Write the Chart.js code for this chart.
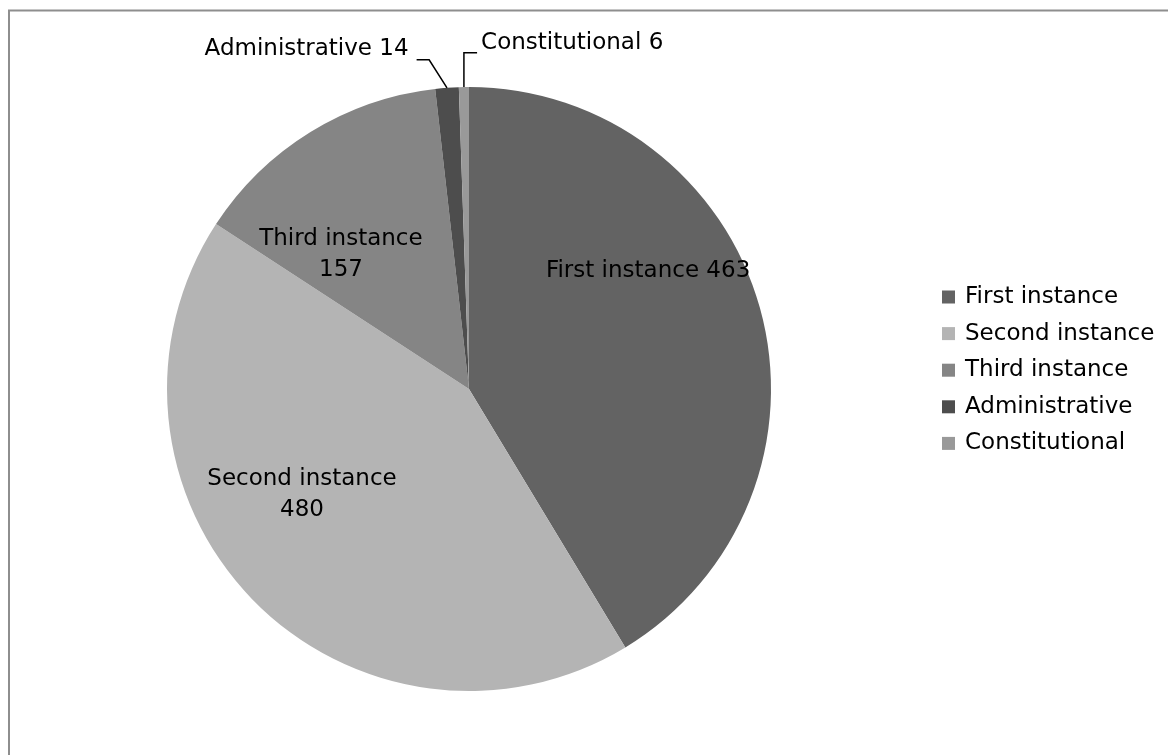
<!DOCTYPE html>
<html>
<head>
<meta charset="utf-8">
<script src="https://cdn.jsdelivr.net/npm/chart.js@4.4.1/dist/chart.umd.min.js"></script>
<style>
  html, body { margin: 0; padding: 0; background: #fff; }
  #wrap { width: 1168px; height: 755px; position: relative; }
</style>
</head>
<body>
<div id="wrap"><canvas id="chart1"></canvas></div>
<script>
const categories = ['First instance', 'Second instance', 'Third instance', 'Administrative', 'Constitutional'];
const caseCounts = [463, 480, 157, 14, 6];
const sliceColors = ['#636363', '#b4b4b4', '#858585', '#4d4d4d', '#999999'];

const FONT = '23px "DejaVu Sans"';

// label placement, in units of the pie radius from the centre
// inside: centre of the text block; outside: anchor + leader line
const labelPlacement = [
    { type: 'inside', dx: 0.593, dy: -0.392, lines: (l, v) => [l + ' ' + v] },
    { type: 'inside', dx: -0.553, dy: 0.348, lines: (l, v) => [l, String(v)] },
    { type: 'inside', dx: -0.424, dy: -0.444, lines: (l, v) => [l, String(v)] },
    { type: 'left', tx: -0.2, ty: -1.126, elbow: -0.132, baseY: -1.09 },
    { type: 'right', tx: 0.04, ty: -1.146, elbow: 0.026, baseY: -1.113 }
];

const pieLabels = {
    id: 'pieLabels',
    afterDatasetsDraw(chart) {
        const ctx = chart.ctx;
        const meta = chart.getDatasetMeta(0);
        const values = chart.data.datasets[0].data;
        ctx.save();
        ctx.font = FONT;
        ctx.fillStyle = '#000';
        ctx.strokeStyle = '#000';
        ctx.lineWidth = 1.5;
        meta.data.forEach((arc, i) => {
            const p = labelPlacement[i];
            const r = arc.outerRadius;
            const label = chart.data.labels[i];
            if (p.type === 'inside') {
                const lines = p.lines(label, values[i]);
                const cx = arc.x + p.dx * r;
                const cy = arc.y + p.dy * r;
                const lh = 31;
                ctx.textAlign = 'center';
                ctx.textBaseline = 'middle';
                lines.forEach((t, k) => {
                    ctx.fillText(t, cx, cy + (k - (lines.length - 1) / 2) * lh);
                });
            } else {
                const mid = (arc.startAngle + arc.endAngle) / 2;
                const ex = arc.x + Math.cos(mid) * r;
                const ey = arc.y + Math.sin(mid) * r;
                const bx = arc.x + p.elbow * r;
                const by = arc.y + p.baseY * r;
                const text = label + ' ' + values[i];
                ctx.textBaseline = 'middle';
                ctx.beginPath();
                if (p.type === 'left') {
                    const tx = arc.x + p.tx * r;
                    ctx.moveTo(tx + 8, by);
                    ctx.lineTo(bx, by);
                    ctx.lineTo(ex, ey);
                    ctx.stroke();
                    ctx.textAlign = 'right';
                    ctx.fillText(text, tx, arc.y + p.ty * r);
                } else {
                    const tx = arc.x + p.tx * r;
                    ctx.moveTo(ex, ey);
                    ctx.lineTo(ex, by);
                    ctx.lineTo(tx - 4, by);
                    ctx.stroke();
                    ctx.textAlign = 'left';
                    ctx.fillText(text, tx, arc.y + p.ty * r);
                }
            }
        });
        ctx.restore();
    }
};

// legend on the right plus the frame along the top and left edges
const sideLegend = {
    id: 'sideLegend',
    afterDraw(chart) {
        const ctx = chart.ctx;
        ctx.save();
        ctx.font = FONT;
        ctx.textAlign = 'left';
        ctx.textBaseline = 'middle';
        chart.data.labels.forEach((label, i) => {
            const y = 297 + i * 36.6;
            ctx.fillStyle = chart.data.datasets[0].backgroundColor[i];
            ctx.fillRect(942, y - 6.5, 13, 13);
            ctx.fillStyle = '#000';
            ctx.fillText(label, 965, y);
        });
        ctx.strokeStyle = '#8e8e8e';
        ctx.lineWidth = 2;
        ctx.beginPath();
        ctx.moveTo(9, 755);
        ctx.lineTo(9, 10.5);
        ctx.lineTo(1168, 10.5);
        ctx.stroke();
        ctx.restore();
    }
};

document.addEventListener('DOMContentLoaded', () => {
    const ctx1 = document.getElementById('chart1').getContext('2d');
    new Chart(ctx1, {
        type: 'pie',
        data: {
            labels: categories,
            datasets: [{
                data: caseCounts,
                backgroundColor: sliceColors,
                borderWidth: 0,
                hoverOffset: 0
            }]
        },
        options: {
            responsive: true,
            maintainAspectRatio: false,
            animation: false,
            layout: { padding: { left: 167, top: 87, right: 397, bottom: 64 } },
            plugins: {
                legend: { display: false },
                tooltip: { enabled: false }
            }
        },
        plugins: [pieLabels, sideLegend]
    });
});
</script>
</body>
</html>
